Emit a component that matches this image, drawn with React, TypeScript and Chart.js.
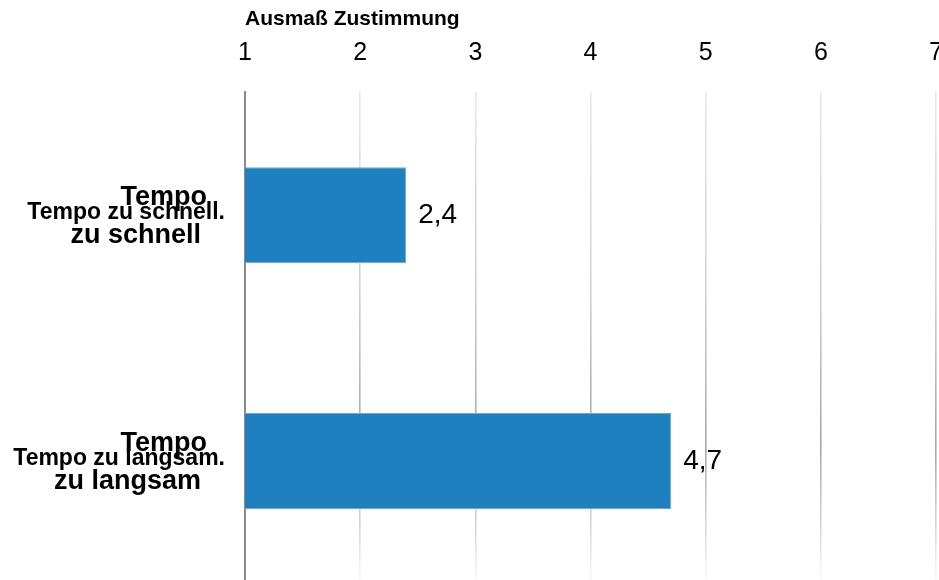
import React, { useEffect, useRef } from "react";
import { Chart, registerables } from "chart.js";

Chart.register(...registerables);

const categories = ["Tempo zu schnell.", "Tempo zu langsam."];
const categoryLines = [
  ["Tempo", "zu schnell"],
  ["Tempo", "zu langsam"],
];
const values = [2.4, 4.7];
const valueLabels = ["2,4", "4,7"];
const axisTitle = "Ausmaß Zustimmung";
const tickMin = 1;
const tickMax = 7;

const FONT = "'Liberation Sans', Arial, sans-serif";

const overlayPlugin = {
  id: "overlayLabels",
  afterDatasetsDraw(chart: any) {
    const { ctx, chartArea } = chart;
    const yScale = chart.scales.y;
    const meta = chart.getDatasetMeta(0);
    ctx.save();
    ctx.fillStyle = "#000";
    ctx.textBaseline = "alphabetic";
    categories.forEach((cat, i) => {
      const py = yScale.getPixelForValue(i);
      // large two-line label
      ctx.textAlign = "right";
      ctx.font = `bold 27px ${FONT}`;
      const lines = categoryLines[i];
      ctx.fillText(lines[0], chartArea.left - 38, py - 10);
      ctx.fillText(lines[1], chartArea.left - 44, py + 28);
      // smaller overlapping label
      ctx.font = `bold 23px ${FONT}`;
      ctx.fillText(cat, chartArea.left - 20, py + 4);
      // value label
      const bar = meta.data[i];
      ctx.textAlign = "left";
      ctx.font = `28px ${FONT}`;
      ctx.fillText(valueLabels[i], bar.x + 12, py + 8);
    });
    ctx.restore();
  },
};

export default function App() {
  const canvasRef = useRef<HTMLCanvasElement | null>(null);

  useEffect(() => {
    if (!canvasRef.current) return;
    const chart = new Chart(canvasRef.current, {
      type: "bar",
      data: {
        labels: categories,
        datasets: [
          {
            data: values,
            backgroundColor: "rgb(31,128,192)",
            borderColor: "rgba(110,170,215,1)",
            borderWidth: 1,
            borderSkipped: false,
            barPercentage: 0.39,
            categoryPercentage: 1,
          },
        ],
      },
      options: {
        indexAxis: "y",
        animation: false,
        responsive: true,
        maintainAspectRatio: false,
        layout: { padding: { left: 245, right: 0, top: 0, bottom: 0 } },
        plugins: {
          legend: { display: false },
          tooltip: { enabled: false },
        },
        scales: {
          x: {
            position: "top",
            min: tickMin,
            max: tickMax,
            ticks: {
              stepSize: 1,
              padding: 0,
              color: "#000",
              font: { family: FONT, size: 25, lineHeight: 3.12 },
            },
            title: {
              display: true,
              text: axisTitle,
              align: "start",
              color: "#000",
              font: { family: FONT, size: 21, weight: "bold", lineHeight: 1.2 },
              padding: { top: 7, bottom: -18 },
            },
            border: { display: false },
            grid: {
              drawTicks: false,
              lineWidth: 1.6,
              color: (c: any) => {
                if (c.index === 0) return "rgba(0,0,0,0)";
                const chart = c.chart;
                const area = chart.chartArea;
                if (!area) return "#cccccc";
                const g = chart.ctx.createLinearGradient(0, area.top, 0, area.bottom);
                g.addColorStop(0, "#e8e8e8");
                g.addColorStop(0.4, "#d2d2d2");
                g.addColorStop(0.72, "#a6a6a6");
                g.addColorStop(1, "#fbfbfb");
                return g;
              },
            },
          },
          y: {
            ticks: { display: false },
            grid: { display: false, drawTicks: false },
            border: { display: true, color: "#8a8a8a", width: 2 },
          },
        },
      },
      plugins: [overlayPlugin],
    });
    return () => chart.destroy();
  }, []);

  return (
    <div
      style={{
        position: "absolute",
        left: 0,
        top: 0,
        width: 939,
        height: 580,
        overflow: "hidden",
        background: "#fff",
      }}
    >
      <div style={{ position: "relative", width: 943, height: 584 }}>
        <canvas ref={canvasRef} />
      </div>
    </div>
  );
}
